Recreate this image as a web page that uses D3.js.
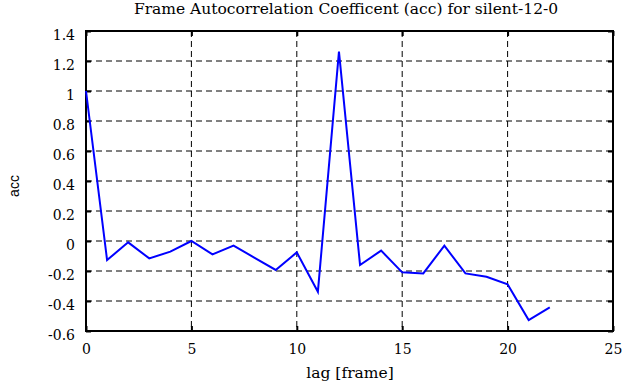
<!DOCTYPE html>
<html>
<head>
<meta charset="utf-8">
<script src="https://cdn.jsdelivr.net/npm/d3@7"></script>
<style>
  body { margin: 0; background: #fff; }
  svg text { font-family: "DejaVu Serif", serif; fill: #000; }
</style>
</head>
<body>
<div id="chart"></div>
<script>
// lag values and autocorrelation
const lags = [0, 1, 2, 3, 4, 5, 6, 7, 8, 9, 10, 11, 12, 13, 14, 15, 16, 17, 18, 19, 20, 21, 22];
const acc = [1.0, -0.127, -0.009, -0.116, -0.071, 0.0, -0.089, -0.031, -0.112, -0.193, -0.076, -0.338,
  1.262, -0.16, -0.064, -0.209, -0.216, -0.031, -0.216, -0.238, -0.289, -0.527, -0.442];

const xTicks = [0, 5, 10, 15, 20, 25];
const yTicks = [-0.6, -0.4, -0.2, 0, 0.2, 0.4, 0.6, 0.8, 1, 1.2, 1.4];
const yTickLabels = ["-0.6", "-0.4", "-0.2", "0", "0.2", "0.4", "0.6", "0.8", "1", "1.2", "1.4"];

const W = 630, H = 387;
const margin = { top: 31, right: 17, bottom: 56, left: 86 };
const width = W - margin.left - margin.right;
const height = H - margin.top - margin.bottom;
const serif = "'DejaVu Serif', serif";

const svg = d3.select("#chart").append("svg")
  .attr("width", W)
  .attr("height", H);

const g = svg.append("g")
  .attr("transform", `translate(${margin.left},${margin.top})`);

const x = d3.scaleLinear().domain([0, 25]).range([0, width]);
const y = d3.scaleLinear().domain([-0.6, 1.4]).range([height, 0]);

// dashed grid, not on the frame edges
g.append("g")
  .selectAll("line")
  .data(xTicks.slice(1, -1))
  .join("line")
  .attr("x1", d => x(d)).attr("x2", d => x(d))
  .attr("y1", 0).attr("y2", height)
  .attr("stroke", "#000").attr("stroke-width", 1)
  .attr("stroke-dasharray", "6,4");

g.append("g")
  .selectAll("line")
  .data(yTicks.slice(1, -1))
  .join("line")
  .attr("y1", d => y(d)).attr("y2", d => y(d))
  .attr("x1", 0).attr("x2", width)
  .attr("stroke", "#000").attr("stroke-width", 1)
  .attr("stroke-dasharray", "6,4");

// axes with inward ticks
const labelOf = d => yTickLabels[yTicks.indexOf(d)];

const xAxis = g.append("g")
  .attr("transform", `translate(0,${height})`)
  .call(d3.axisBottom(x).tickValues(xTicks).tickSize(-5).tickPadding(13));
const xTop = g.append("g")
  .call(d3.axisTop(x).tickValues(xTicks).tickSize(-5).tickFormat(""));
const yAxis = g.append("g")
  .call(d3.axisLeft(y).tickValues(yTicks).tickSize(-5).tickPadding(11).tickFormat(labelOf));
const yRight = g.append("g")
  .attr("transform", `translate(${width},0)`)
  .call(d3.axisRight(y).tickValues(yTicks).tickSize(-5).tickFormat(""));

[xAxis, xTop, yAxis, yRight].forEach(a => {
  a.attr("font-family", serif).attr("font-size", 14);
  a.select(".domain").remove();
  a.selectAll(".tick line").attr("stroke", "#000").attr("stroke-width", 2);
  a.selectAll(".tick text").style("font-family", serif).style("font-size", "14px");
});
yAxis.selectAll(".tick text").attr("dy", "0.6em");

// frame
g.append("rect")
  .attr("width", width).attr("height", height)
  .attr("fill", "none").attr("stroke", "#000").attr("stroke-width", 2);

// data line
const line = d3.line()
  .x((d, i) => x(lags[i]))
  .y(d => y(d));

g.append("path")
  .datum(acc)
  .attr("d", line)
  .attr("fill", "none")
  .attr("stroke", "#0000ff")
  .attr("stroke-width", 2)
  .attr("stroke-linejoin", "miter");

// title and axis labels
svg.append("text")
  .attr("x", 346).attr("y", 14)
  .attr("text-anchor", "middle")
  .style("font-size", "15.5px")
  .text("Frame Autocorrelation Coefficent (acc) for silent-12-0");

svg.append("text")
  .attr("x", 350).attr("y", 378)
  .attr("text-anchor", "middle")
  .style("font-size", "15.5px")
  .text("lag [frame]");

svg.append("text")
  .attr("transform", "translate(19,186) rotate(-90)")
  .attr("text-anchor", "middle")
  .style("font-family", "'Liberation Sans', Arial, sans-serif")
  .style("font-size", "14px")
  .text("acc");
</script>
</body>
</html>
